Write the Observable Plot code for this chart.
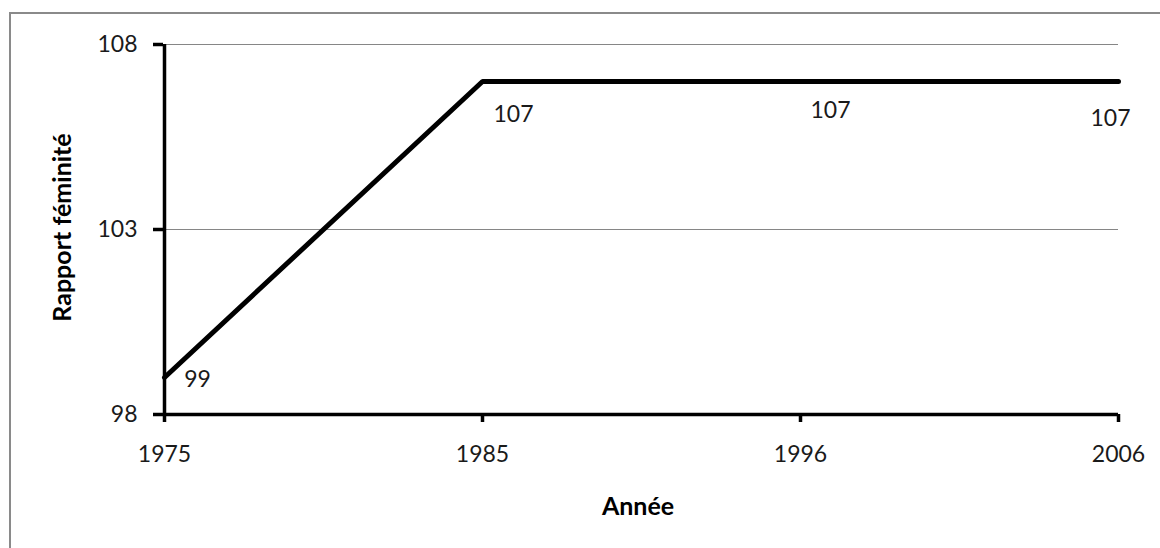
<!DOCTYPE html>
<html>
<head>
<meta charset="utf-8">
<script src="https://cdn.jsdelivr.net/npm/d3@7"></script>
<script src="https://cdn.jsdelivr.net/npm/@observablehq/plot@0.6"></script>
<style>
  html, body { margin: 0; padding: 0; background: #fff; }
  #wrap { position: relative; width: 1160px; height: 548px; overflow: hidden; }
  #frame { position: absolute; left: 9px; top: 12px; width: 1200px; height: 600px; border: 2px solid #8a8a8a; box-sizing: border-box; }
  #chart { position: absolute; left: 0; top: 0; }
  svg { font-family: Lato, "Liberation Sans", sans-serif; }
</style>
</head>
<body>
<div id="wrap"><div id="frame"></div><div id="chart"></div></div>
<script>
const years = ["1975", "1985", "1996", "2006"];
const values = [99, 107, 107, 107];
const yTicks = [98, 103, 108];
const gridValues = [103, 108];
const xTitle = "Année";
const yTitle = "Rapport féminité";

const data = years.map((year, i) => ({year, value: values[i]}));
const pick = (y) => data.filter(d => d.year === y);
const FS = 23;
const TFS = 25;

const chart = Plot.plot({
  width: 1160,
  height: 548,
  marginLeft: 163,
  marginRight: 42,
  marginTop: 44,
  marginBottom: 134,
  style: {fontSize: FS + "px", color: "#1a1a1a", background: "transparent"},
  x: {type: "point", domain: years, padding: 0, label: null},
  y: {domain: [98, 108], label: null},
  marks: [
    Plot.ruleY(gridValues, {stroke: "#868686", strokeWidth: 1}),
    Plot.axisY({ticks: yTicks, tickSize: 10, tickPadding: 16, strokeWidth: 3.5, stroke: "#000", fontSize: FS, label: null}),
    Plot.axisX({tickSize: 8, tickPadding: 23, strokeWidth: 3.5, stroke: "#000", fontSize: FS, label: null}),
    Plot.ruleY([98], {stroke: "#000", strokeWidth: 3.5}),
    Plot.ruleX([years[0]], {stroke: "#000", strokeWidth: 3.5}),
    Plot.line(data, {x: "year", y: "value", stroke: "#000", strokeWidth: 5, strokeLinejoin: "miter"}),
    Plot.text(pick("1975"), {x: "year", y: "value", text: d => String(d.value), dx: 33, dy: 2, fontSize: FS, fill: "#1a1a1a"}),
    Plot.text(pick("1985"), {x: "year", y: "value", text: d => String(d.value), dx: 31, dy: 33, fontSize: FS, fill: "#1a1a1a"}),
    Plot.text(pick("1996"), {x: "year", y: "value", text: d => String(d.value), dx: 30, dy: 29, fontSize: FS, fill: "#1a1a1a"}),
    Plot.text(pick("2006"), {x: "year", y: "value", text: d => String(d.value), dx: -8, dy: 37, fontSize: FS, fill: "#1a1a1a"}),
    Plot.text([xTitle], {frameAnchor: "bottom", textAnchor: "middle", dx: -3, dy: 100, text: d => d, fontSize: TFS, fontWeight: "bold", fill: "#000"}),
    Plot.text([yTitle], {frameAnchor: "left", textAnchor: "middle", dx: -101, dy: -2, rotate: -90, text: d => d, fontSize: TFS, fontWeight: "bold", fill: "#000"})
  ]
});
document.getElementById("chart").appendChild(chart);
</script>
</body>
</html>
